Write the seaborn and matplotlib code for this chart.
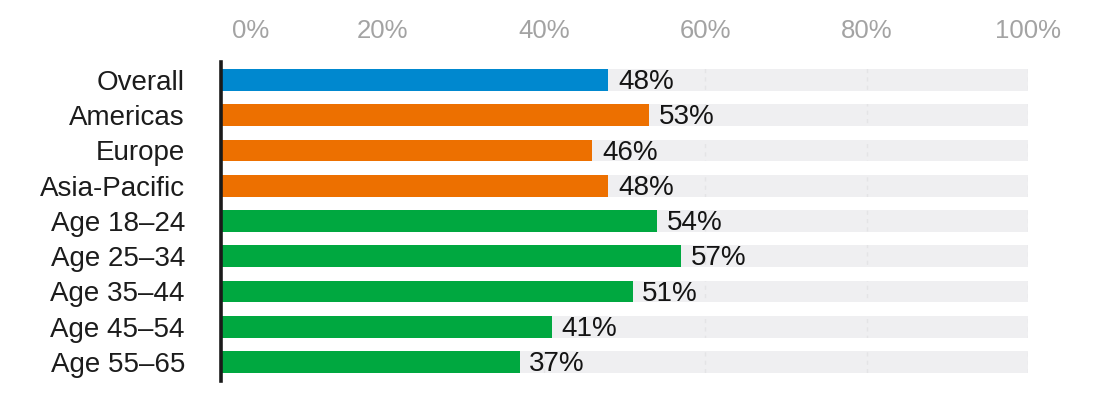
import matplotlib
matplotlib.use("Agg")
import matplotlib.pyplot as plt
import matplotlib.transforms as mtransforms
from matplotlib.path import Path
import seaborn as sns
import pandas as pd

categories = ["Overall", "Americas", "Europe", "Asia-Pacific", "Age 18–24",
              "Age 25–34", "Age 35–44", "Age 45–54", "Age 55–65"]
values = [48, 53, 46, 48, 54, 57, 51, 41, 37]
groups = ["Overall", "Region", "Region", "Region", "Age", "Age", "Age", "Age", "Age"]
full_scale = [100] * len(categories)
tick_values = [0, 20, 40, 60, 80, 100]
tick_labels = ["0%", "20%", "40%", "60%", "80%", "100%"]

palette = {"Overall": "#0088cf", "Region": "#ed7000", "Age": "#00a840"}

df = pd.DataFrame({"category": categories, "value": values,
                   "group": groups, "full": full_scale})

sns.set_theme(style="white")
plt.rcParams["font.family"] = ["Liberation Sans", "DejaVu Sans"]

fig = plt.figure(figsize=(10.99, 3.97), dpi=100)
ax = fig.add_axes([221 / 1099, 1 - 381 / 397, (1028 - 221) / 1099, (381 - 62) / 397])

bar_w = 0.62
sns.barplot(data=df, y="category", x="full", order=categories, color="#efeff1",
            width=bar_w, ax=ax, zorder=1, saturation=1)
bg_patches = list(ax.patches)
sns.barplot(data=df, y="category", x="value", hue="group", order=categories,
            palette=palette, dodge=False, width=bar_w, legend=False, ax=ax,
            zorder=3, saturation=1)
for p in ax.patches:
    p.set_linewidth(0)

ax.set_xlim(0, 100)
ax.set_ylim(len(categories) - 1 + 0.54, -0.51)
ax.set_xlabel("")
ax.set_ylabel("")

ax.xaxis.tick_top()
ax.set_xticks(tick_values)
ax.set_xticklabels(tick_labels)
ax.tick_params(axis="x", length=0, pad=14, labelsize=18.5, labelcolor="#a3a3a3")
ax.tick_params(axis="y", length=0, pad=26, labelsize=20, labelcolor="#1c1c1c")
for lab in ax.get_yticklabels():
    lab.set_horizontalalignment("right")

first = ax.get_xticklabels()[0]
first.set_transform(first.get_transform() +
                    mtransforms.ScaledTranslation(0.30, 0, fig.dpi_scale_trans))

for s in ["top", "right", "bottom"]:
    ax.spines[s].set_visible(False)
ax.spines["left"].set_color("#1a1a1a")
ax.spines["left"].set_linewidth(2.6)
ax.spines["left"].set_zorder(5)

# faint dashed gridlines, visible only inside the grey background bars
ax.grid(axis="x", color="#e4e4e6", linestyle=(0, (3, 3)), linewidth=1.0, zorder=2)
ax.grid(axis="y", visible=False)
ax.set_axisbelow(False)
clip = Path.make_compound_path(*[p.get_path().transformed(p.get_patch_transform())
                                 for p in bg_patches])
for gl in ax.get_xgridlines():
    gl.set_clip_path(clip, ax.transData)
    gl.set_zorder(2)

for i, v in enumerate(values):
    ax.text(v + 1.2, i + 0.06, f"{v}%", va="center", ha="left", fontsize=20,
            color="#141414", zorder=6)

fig.savefig("out.png", dpi=100, facecolor="white")
